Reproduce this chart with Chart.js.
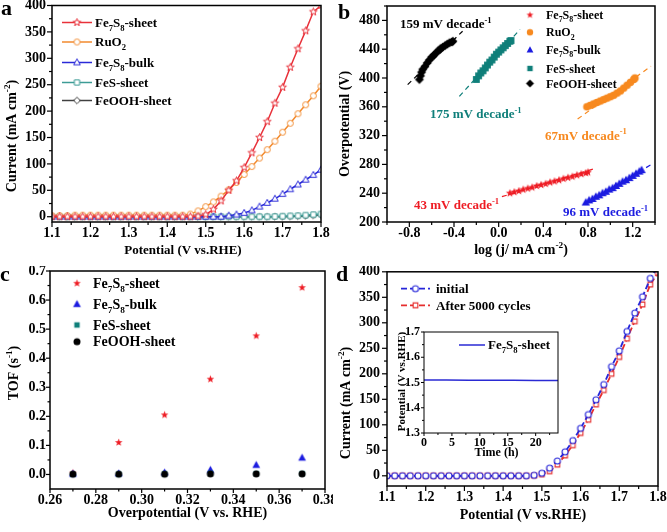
<!DOCTYPE html>
<html><head><meta charset="utf-8">
<script src="https://cdn.jsdelivr.net/npm/chart.js@4.4.1/dist/chart.umd.min.js"></script>
<style>
html,body{margin:0;padding:0;background:#fff;}
#wrap{position:relative;width:667px;height:532px;overflow:hidden;background:#fff;}
canvas{position:absolute;}
</style></head><body>
<div id="wrap">
<canvas id="ca" width="333" height="266" style="left:0;top:0;width:333px;height:266px"></canvas>
<canvas id="cb" width="334" height="266" style="left:333px;top:0;width:334px;height:266px"></canvas>
<canvas id="cc" width="333" height="266" style="left:0;top:266px;width:333px;height:266px"></canvas>
<canvas id="cd" width="334" height="266" style="left:333px;top:266px;width:334px;height:266px"></canvas>
<canvas id="ci" width="195" height="140" style="left:375px;top:325px;width:195px;height:140px"></canvas>
</div>
<script>
// ================= DATA =================
// Panel a: LSV curves
const potentialA = [1.10,1.12,1.14,1.16,1.18,1.20,1.22,1.24,1.26,1.28,1.30,1.32,1.34,1.36,1.38,1.40,1.42,1.44,1.46,1.48,1.50,1.52,1.54,1.56,1.58,1.60,1.62,1.64,1.66,1.68,1.70,1.72,1.74,1.76,1.78,1.80];
const lsvSheetA = [0,0,0,0,0,0,0,0,0,0,0,0,0,0,0,0,0,0,0,1,4,14,30,50,68,93,121,150,180,215,245,283,318,352,388,400];
const lsvRuO2A  = [2,2,2,3,3,3,3,3,3,3,3,3,3,3,3,3,3,3,5,11,19,28,39,51,65,80,95,111,127,143,160,177,195,212,229,247];
const lsvBulkA  = [0,0,0,0,0,0,0,0,0,0,0,0,0,0,0,0,0,0,0,0,0,0,0,2,4,7,12,19,26,34,43,52,61,70,79,89];
const lsvFeSA   = [0,0,0,0,0,0,0,0,0,0,0,0,0,0,0,0,0,0,0,0,0,0,0,0,0,0,0,0,0,0.5,1,1.5,2,3,4,5];
const lsvFeOOHA = [0,0,0,0,0,0,0,0,0,0,0,0,0,0,0,0,0,0,0,0,0,0,0,0,0,0,0,0,0,0,0,0.5,1,1.5,2.5,3.5];

// Panel b: Tafel plots (log j, overpotential mV)
const tafelOohX = [-0.71,-0.70,-0.69,-0.68,-0.66,-0.64,-0.62,-0.60,-0.58,-0.56,-0.54,-0.52,-0.50,-0.48,-0.46,-0.44,-0.42,-0.41];
const tafelOohY = [398,403,408,412,416,421,425,429,432,435,438,441,443,445,447,449,450,451];
const tafelFesX = [-0.20,-0.18,-0.16,-0.14,-0.12,-0.10,-0.08,-0.06,-0.04,-0.02,0.00,0.02,0.04,0.06,0.08,0.10,0.11];
const tafelFesY = [398,403,407,410,414,418,422,425,429,433,436,439,442,445,448,451,452];
const tafelRuX = [0.79,0.82,0.85,0.88,0.91,0.94,0.97,1.00,1.03,1.06,1.09,1.12,1.15,1.18,1.21,1.22];
const tafelRuY = [360,362,364,366,368,370,372,374,376,379,382,386,390,394,398,400];
const tafelSheetX = [0.10,0.14,0.18,0.22,0.26,0.30,0.34,0.38,0.42,0.46,0.50,0.54,0.58,0.62,0.66,0.70,0.74,0.78,0.80];
const tafelSheetY = [240,241.5,243,245,246.5,248,250,251.5,253,255,256.5,258,260,261.5,263,265,266.5,268,269];
const tafelBulkX = [0.78,0.81,0.84,0.87,0.90,0.93,0.96,0.99,1.02,1.05,1.08,1.11,1.14,1.17,1.20,1.23,1.26,1.28];
const tafelBulkY = [227,230,232,235,237,240,242,245,247,250,253,256,258,261,264,267,270,272];
// fitted lines
const fitOohX = [-0.815,-0.323], fitOohY = [390.8,465];
const fitFesX = [-0.352,0.191], fitFesY = [374.5,467.4];
const fitRuX = [0.707,1.364], fitRuY = [343,416.3];
const fitSheetX = [0.029,0.874], fitSheetY = [235.2,274.8];
const fitBulkX = [0.764,1.363], fitBulkY = [225,279.4];
const slopeLabels = ['159 mV decade^{-1}','175 mV decade^{-1}','67mV decade^{-1}','43 mV decade^{-1}','96 mV decade^{-1}'];

// Panel c: TOF
const overpotC = [0.27,0.29,0.31,0.33,0.35,0.37];
const tofSheet = [0.005,0.110,0.205,0.328,0.477,0.643];
const tofBulk  = [0.002,0.003,0.006,0.015,0.032,0.057];
const tofFeS   = [0.001,0.001,0.002,0.004,0.003,0.003];
const tofFeOOH = [0.001,0.001,0.001,0.002,0.002,0.002];

// Panel d: stability
const potentialD = [1.10,1.12,1.14,1.16,1.18,1.20,1.22,1.24,1.26,1.28,1.30,1.32,1.34,1.36,1.38,1.40,1.42,1.44,1.46,1.48,1.50,1.52,1.54,1.56,1.58,1.60,1.62,1.64,1.66,1.68,1.70,1.72,1.74,1.76,1.78,1.80];
const lsvInitial = [0,0,0,0,0,0,0,0,0,0,0,0,0,0,0,0,0,0,0,1,5,15,29,47,69,93,120,149,179,214,245,283,319,351,387,410];
const lsvAfter   = [0,0,0,0,0,0,0,0,0,0,0,0,0,0,0,0,0,0,0,0.5,3,9,22,40,60,84,110,140,168,200,233,269,303,336,375,398];
const timeH = [0,4,8,12,16,20,24];
const potTime = [1.510,1.510,1.509,1.509,1.509,1.508,1.508];

// Tick values
const aXMajor = [1.1,1.2,1.3,1.4,1.5,1.6,1.7,1.8], aXMinor = [1.15,1.25,1.35,1.45,1.55,1.65,1.75];
const aYMajor = [0,50,100,150,200,250,300,350,400], aYMinor = [25,75,125,175,225,275,325,375];
const bXMajor = [-0.8,-0.4,0,0.4,0.8,1.2], bXMinor = [-1.0,-0.6,-0.2,0.2,0.6,1.0,1.4];
const bYMajor = [200,240,280,320,360,400,440,480], bYMinor = [220,260,300,340,380,420,460,500];
const cXMajor = [0.26,0.28,0.30,0.32,0.34,0.36,0.38], cXMinor = [0.27,0.29,0.31,0.33,0.35,0.37];
const cYMajor = [0,0.1,0.2,0.3,0.4,0.5,0.6,0.7], cYMinor = [0.05,0.15,0.25,0.35,0.45,0.55,0.65];
const iXMajor = [0,5,10,15,20], iXMinor = [2.5,7.5,12.5,17.5,22.5];
const iYMajor = [1.3,1.4,1.5,1.6,1.7], iYMinor = [1.35,1.45,1.55,1.65];

// ================= HELPERS =================
const SERIF = '"Liberation Serif","Times New Roman",serif';
const pts = (xs, ys) => xs.map((x, i) => ({x: x, y: ys[i]}));

function shapePath(g, shape, x, y, r) {
  g.beginPath();
  if (shape === 'circle') g.arc(x, y, r, 0, Math.PI * 2);
  else if (shape === 'square') g.rect(x - r * 0.9, y - r * 0.9, r * 1.8, r * 1.8);
  else if (shape === 'diamond') { g.moveTo(x, y - r); g.lineTo(x + r, y); g.lineTo(x, y + r); g.lineTo(x - r, y); g.closePath(); }
  else if (shape === 'triangle') { g.moveTo(x, y - r * 1.1); g.lineTo(x + r, y + r * 0.7); g.lineTo(x - r, y + r * 0.7); g.closePath(); }
  else if (shape === 'star') {
    for (let k = 0; k < 10; k++) {
      const rr = k % 2 ? r * 0.42 : r, a = -Math.PI / 2 + k * Math.PI / 5;
      const px = x + rr * Math.cos(a), py = y + rr * Math.sin(a);
      if (k) g.lineTo(px, py); else g.moveTo(px, py);
    }
    g.closePath();
  }
}
function mk(shape, r, fill, stroke, lw) {
  lw = lw || 1;
  const s = Math.ceil(2 * r + lw + 4);
  const c = document.createElement('canvas'); c.width = s; c.height = s;
  const g = c.getContext('2d');
  shapePath(g, shape, s / 2, s / 2, r);
  if (fill) { g.fillStyle = fill; g.fill(); }
  if (stroke) { g.strokeStyle = stroke; g.lineWidth = lw; g.stroke(); }
  return c;
}
function richParts(str) {
  const parts = []; let i = 0, buf = '';
  while (i < str.length) {
    const c = str[i];
    if (c === '_' || c === '^') {
      if (buf) { parts.push({t: buf, m: 0}); buf = ''; }
      let t;
      if (str[i + 1] === '{') { const j = str.indexOf('}', i); t = str.slice(i + 2, j); i = j + 1; }
      else { t = str[i + 1]; i += 2; }
      parts.push({t: t, m: c === '_' ? 1 : 2});
    } else { buf += c; i++; }
  }
  if (buf) parts.push({t: buf, m: 0});
  return parts;
}
function drawRich(ctx, str, x, y, size, color, align) {
  const parts = richParts(str);
  let w = 0;
  parts.forEach(p => { p.f = 'bold ' + (p.m ? size * 0.66 : size) + 'px ' + SERIF; ctx.font = p.f; p.w = ctx.measureText(p.t).width; w += p.w; });
  let cx = align === 'center' ? x - w / 2 : align === 'right' ? x - w : x;
  ctx.fillStyle = color || '#000'; ctx.textBaseline = 'alphabetic'; ctx.textAlign = 'left';
  parts.forEach(p => {
    ctx.font = p.f;
    const dy = p.m === 1 ? size * 0.28 : p.m === 2 ? -size * 0.4 : 0;
    ctx.fillText(p.t, cx, y + dy); cx += p.w;
  });
}

function decorPlugin(cfg) {
  return {
    id: 'decor',
    beforeDraw(chart) {
      if (!cfg.fillArea) return;
      const a = chart.chartArea, ctx = chart.ctx;
      ctx.save(); ctx.fillStyle = '#fff'; ctx.fillRect(a.left, a.top, a.right - a.left, a.bottom - a.top); ctx.restore();
    },
    afterDraw(chart) {
      const ctx = chart.ctx, a = chart.chartArea, sx = chart.scales.x, sy = chart.scales.y;
      ctx.save();
      ctx.strokeStyle = '#000'; ctx.lineWidth = cfg.tickW || 1.2;
      const TL = cfg.tickLen || [5, 3];
      const tick = (vals, len, isX) => vals.forEach(v => {
        ctx.beginPath();
        if (isX) { const p = sx.getPixelForValue(v); ctx.moveTo(p, a.bottom); ctx.lineTo(p, a.bottom + len); }
        else { const p = sy.getPixelForValue(v); ctx.moveTo(a.left, p); ctx.lineTo(a.left - len, p); }
        ctx.stroke();
      });
      tick(cfg.x.major, TL[0], true); tick(cfg.x.minor, TL[1], true);
      tick(cfg.y.major, TL[0], false); tick(cfg.y.minor, TL[1], false);
      ctx.lineWidth = cfg.frameW || 1.5;
      ctx.strokeRect(a.left, a.top, a.right - a.left, a.bottom - a.top);
      (cfg.titles || []).forEach(t => {
        ctx.save();
        if (t.rot) { ctx.translate(t.x, t.y); ctx.rotate(-Math.PI / 2); drawRich(ctx, t.text, 0, 0, t.fs, t.color, 'center'); }
        else drawRich(ctx, t.text, t.x, t.y, t.fs, t.color, t.align || 'center');
        ctx.restore();
      });
      (cfg.legend || []).forEach(L => {
        if (L.x0 !== undefined) {
          ctx.save(); ctx.strokeStyle = L.color; ctx.lineWidth = L.lw || 1.5;
          if (L.dash) ctx.setLineDash(L.dash);
          ctx.beginPath(); ctx.moveTo(L.x0, L.y); ctx.lineTo(L.x1, L.y); ctx.stroke(); ctx.restore();
        }
        if (L.mk) ctx.drawImage(L.mk, L.mx - L.mk.width / 2, L.y - L.mk.height / 2);
        drawRich(ctx, L.text, L.tx, L.y + L.fs * 0.34, L.fs, L.tcolor || '#000', 'left');
      });
      (cfg.texts || []).forEach(t => drawRich(ctx, t.text, t.x, t.y, t.fs, t.color, t.align || 'left'));
      ctx.restore();
    }
  };
}

function makeChart(id, cfg) {
  const cv = document.getElementById(id);
  const W = cv.width, H = cv.height, A = cfg.area;
  const zero = s => { s.paddingLeft = 0; s.paddingRight = 0; s.paddingTop = 0; s.paddingBottom = 0; };
  const axis = (ax, isX) => ({
    type: 'linear', min: ax.min, max: ax.max,
    afterBuildTicks: s => { s.ticks = ax.major.map(v => ({value: v})); },
    afterFit: s => { if (isX) s.height = H - A.bottom; else s.width = A.left; zero(s); },
    grid: {display: false, drawTicks: false}, border: {display: false},
    ticks: {color: '#000', font: {family: SERIF, size: ax.fs || 13, weight: 'bold'}, padding: ax.pad,
      maxRotation: 0, minRotation: 0, autoSkip: false,
      callback: v => Number(v).toFixed(ax.dec)}
  });
  return new Chart(cv, {
    type: 'scatter',
    data: {datasets: cfg.datasets},
    options: {
      responsive: false, animation: false, devicePixelRatio: 1, events: [],
      layout: {padding: {left: 0, top: A.top, right: W - A.right, bottom: 0}},
      plugins: {legend: {display: false}, tooltip: {enabled: false}},
      scales: {x: axis(cfg.x, true), y: axis(cfg.y, false)}
    },
    plugins: [decorPlugin(cfg)]
  });
}

// ================= PANEL A =================
const cA = {red: '#e8313a', orange: '#f28a2e', blue: '#2a2ad8', teal: '#3d9c96', gray: '#404040'};
const mkA = {
  star: mk('star', 4.0, '#fff', cA.red, 1),
  circ: mk('circle', 3.0, '#fff', cA.orange, 1),
  tri: mk('triangle', 3.3, '#fff', cA.blue, 1),
  sq: mk('square', 2.9, '#fff', cA.teal, 1),
  dia: mk('diamond', 3.3, '#fff', cA.gray, 1)
};
const lineDs = (label, ys, xs, color, img, extra) => Object.assign({
  label: label, data: pts(xs, ys), showLine: true, borderColor: color, borderWidth: 1.5,
  pointStyle: img, pointRadius: 3, tension: 0
}, extra || {});
makeChart('ca', {
  area: {left: 52, top: 5, right: 321, bottom: 222},
  x: {min: 1.1, max: 1.8, major: aXMajor, minor: aXMinor, dec: 1, pad: 3, fs: 14},
  y: {min: -10, max: 400, major: aYMajor, minor: aYMinor, dec: 0, pad: 6, fs: 14},
  datasets: [
    lineDs('Fe7S8-sheet', lsvSheetA, potentialA, cA.red, mkA.star),
    lineDs('RuO2', lsvRuO2A, potentialA, cA.orange, mkA.circ),
    lineDs('Fe7S8-bulk', lsvBulkA, potentialA, cA.blue, mkA.tri),
    lineDs('FeS-sheet', lsvFeSA, potentialA, cA.teal, mkA.sq),
    lineDs('FeOOH-sheet', lsvFeOOHA, potentialA, cA.gray, mkA.dia)
  ],
  titles: [
    {text: 'Current (mA cm^{-2})', x: 16, y: 136, fs: 14, rot: true},
    {text: 'Potential (V vs.RHE)', x: 183, y: 254, fs: 13}
  ],
  legend: [
    {x0: 62, x1: 92, y: 22.5, color: cA.red, mk: mkA.star, mx: 77, tx: 95, text: 'Fe_7S_8-sheet', fs: 13},
    {x0: 62, x1: 92, y: 42, color: cA.orange, mk: mkA.circ, mx: 77, tx: 95, text: 'RuO_2', fs: 13},
    {x0: 62, x1: 92, y: 62.5, color: cA.blue, mk: mkA.tri, mx: 77, tx: 95, text: 'Fe_7S_8-bulk', fs: 13},
    {x0: 62, x1: 92, y: 82.5, color: cA.teal, mk: mkA.sq, mx: 77, tx: 95, text: 'FeS-sheet', fs: 13},
    {x0: 62, x1: 92, y: 100.5, color: cA.gray, mk: mkA.dia, mx: 77, tx: 95, text: 'FeOOH-sheet', fs: 13}
  ],
  texts: [{text: 'a', x: 1, y: 15, fs: 22, color: '#000'}]
});

// ================= PANEL B =================
const cB = {red: '#ee1c24', orange: '#f7891f', blue: '#1c1ce0', teal: '#0f7f7a', black: '#000'};
const mkB = {
  star: mk('star', 4.2, cB.red), circ: mk('circle', 3.8, cB.orange), tri: mk('triangle', 4.2, cB.blue),
  sq: mk('square', 3.8, cB.teal), dia: mk('diamond', 4.5, cB.black)
};
const mkBL = {
  star: mk('star', 3.6, cB.red), circ: mk('circle', 3.2, cB.orange), tri: mk('triangle', 3.4, cB.blue),
  sq: mk('square', 3.0, cB.teal), dia: mk('diamond', 4.0, cB.black)
};
const bandDs = (label, xs, ys, img) => ({label: label, data: pts(xs, ys), showLine: false, pointStyle: img, pointRadius: 4});
const fitDs = (xs, ys, color) => ({label: 'fit', data: pts(xs, ys), showLine: true, borderColor: color, borderWidth: 1.2, borderDash: [5, 4], pointRadius: 0});
makeChart('cb', {
  area: {left: 54, top: 6, right: 322, bottom: 222},
  x: {min: -1.0, max: 1.4, major: bXMajor, minor: bXMinor, dec: 1, pad: 3, fs: 14},
  y: {min: 200, max: 500, major: bYMajor, minor: bYMinor, dec: 0, pad: 7, fs: 14},
  datasets: [
    bandDs('Fe7S8-sheet', tafelSheetX, tafelSheetY, mkB.star),
    bandDs('RuO2', tafelRuX, tafelRuY, mkB.circ),
    bandDs('Fe7S8-bulk', tafelBulkX, tafelBulkY, mkB.tri),
    bandDs('FeS-sheet', tafelFesX, tafelFesY, mkB.sq),
    bandDs('FeOOH-sheet', tafelOohX, tafelOohY, mkB.dia),
    fitDs(fitOohX, fitOohY, cB.black),
    fitDs(fitFesX, fitFesY, cB.teal),
    fitDs(fitRuX, fitRuY, cB.orange),
    fitDs(fitSheetX, fitSheetY, cB.red),
    fitDs(fitBulkX, fitBulkY, cB.blue)
  ],
  titles: [
    {text: 'Overpotential (V)', x: 16, y: 124, fs: 14, rot: true},
    {text: 'log (j/ mA cm^{-2})', x: 188, y: 254, fs: 14}
  ],
  legend: [
    {y: 15, mk: mkBL.star, mx: 197, tx: 213, text: 'Fe_7S_8-sheet', fs: 12},
    {y: 32.3, mk: mkBL.circ, mx: 197, tx: 213, text: 'RuO_2', fs: 12},
    {y: 50, mk: mkBL.tri, mx: 197, tx: 213, text: 'Fe_7S_8-bulk', fs: 12},
    {y: 68.5, mk: mkBL.sq, mx: 197, tx: 213, text: 'FeS-sheet', fs: 12},
    {y: 83.5, mk: mkBL.dia, mx: 197, tx: 213, text: 'FeOOH-sheet', fs: 12}
  ],
  texts: [
    {text: slopeLabels[0], x: 67, y: 28, fs: 13, color: cB.black},
    {text: slopeLabels[1], x: 97, y: 118, fs: 13, color: cB.teal},
    {text: slopeLabels[2], x: 212, y: 139.5, fs: 13, color: cB.orange},
    {text: slopeLabels[3], x: 81, y: 209, fs: 13, color: cB.red},
    {text: slopeLabels[4], x: 230, y: 216, fs: 13, color: cB.blue},
    {text: 'b', x: 5, y: 19, fs: 22, color: '#000'}
  ]
});

// ================= PANEL C =================
const mkC = {
  star: mk('star', 4.0, cB.red), tri: mk('triangle', 3.9, cB.blue), sq: mk('square', 3.0, cB.teal), circ: mk('circle', 3.5, '#000')
};
const ptDs = (label, xs, ys, img) => ({label: label, data: pts(xs, ys), showLine: false, pointStyle: img, pointRadius: 4});
makeChart('cc', {
  area: {left: 50, top: 4, right: 325, bottom: 223},
  tickLen: [4, 2.5],
  x: {min: 0.26, max: 0.38, major: cXMajor, minor: cXMinor, dec: 2, pad: 3, fs: 14},
  y: {min: -0.05, max: 0.7, major: cYMajor, minor: cYMinor, dec: 1, pad: 4, fs: 14},
  datasets: [
    ptDs('FeOOH-sheet', overpotC, tofFeOOH, mkC.circ),
    ptDs('FeS-sheet', overpotC, tofFeS, mkC.sq),
    ptDs('Fe7S8-bulk', overpotC, tofBulk, mkC.tri),
    ptDs('Fe7S8-sheet', overpotC, tofSheet, mkC.star)
  ],
  titles: [
    {text: 'TOF (s^{-1})', x: 18, y: 107, fs: 14, rot: true},
    {text: 'Overpotential (V vs. RHE)', x: 187.5, y: 251, fs: 14}
  ],
  legend: [
    {y: 17.3, mk: mkC.star, mx: 77, tx: 93, text: 'Fe_7S_8-sheet', fs: 14},
    {y: 38.3, mk: mkC.tri, mx: 77, tx: 93, text: 'Fe_7S_8-bulk', fs: 14},
    {y: 59, mk: mkC.sq, mx: 77, tx: 93, text: 'FeS-sheet', fs: 14},
    {y: 75.7, mk: mkC.circ, mx: 77, tx: 93, text: 'FeOOH-sheet', fs: 14}
  ],
  texts: [{text: 'c', x: 0, y: 15, fs: 22, color: '#000'}]
});

// ================= PANEL D =================
const cD = {blue: '#2626d9', red: '#e62e2e'};
const mkD = {circ: mk('circle', 3.0, '#fff', cD.blue, 1.1), sq: mk('square', 2.6, '#fff', cD.red, 1.1)};
makeChart('cd', {
  area: {left: 54, top: 3, right: 325, bottom: 220},
  x: {min: 1.1, max: 1.8, major: aXMajor, minor: aXMinor, dec: 1, pad: 3, fs: 14},
  y: {min: -20, max: 400, major: aYMajor, minor: aYMinor, dec: 0, pad: 7, fs: 14},
  datasets: [
    lineDs('initial', lsvInitial, potentialD, cD.blue, mkD.circ, {borderDash: [6, 3], borderWidth: 1.8}),
    lineDs('After 5000 cycles', lsvAfter, potentialD, cD.red, mkD.sq, {borderDash: [6, 3], borderWidth: 1.8})
  ],
  titles: [
    {text: 'Current (mA cm^{-2})', x: 16.5, y: 137, fs: 14, rot: true},
    {text: 'Potential (V vs.RHE)', x: 190, y: 253, fs: 14}
  ],
  legend: [
    {x0: 68, x1: 97, y: 22.7, color: cD.blue, lw: 1.8, dash: [6, 3], mk: mkD.circ, mx: 82.5, tx: 103, text: 'initial', fs: 13},
    {x0: 68, x1: 97, y: 39.3, color: cD.red, lw: 1.8, dash: [6, 3], mk: mkD.sq, mx: 82.5, tx: 103, text: 'After 5000 cycles', fs: 13}
  ],
  texts: [{text: 'd', x: 3, y: 15, fs: 22, color: '#000'}]
});

// ================= INSET =================
makeChart('ci', {
  area: {left: 49, top: 7, right: 183, bottom: 108},
  fillArea: true, frameW: 1, tickW: 1, tickLen: [3, 2],
  x: {min: 0, max: 24, major: iXMajor, minor: iXMinor, dec: 0, pad: 3, fs: 12},
  y: {min: 1.3, max: 1.7, major: iYMajor, minor: iYMinor, dec: 1, pad: 4, fs: 12},
  datasets: [
    {label: 'Fe7S8-sheet', data: pts(timeH, potTime), showLine: true, borderColor: '#2a2ad4', borderWidth: 1.5, pointRadius: 0}
  ],
  titles: [
    {text: 'Potential (V vs.RHE)', x: 30, y: 56.5, fs: 11, rot: true},
    {text: 'Time (h)', x: 121.5, y: 131, fs: 12}
  ],
  legend: [
    {x0: 84, x1: 110, y: 20, color: '#2a2ad4', lw: 1.5, tx: 113, text: 'Fe_7S_8-sheet', fs: 13}
  ]
});
</script>
</body></html>
